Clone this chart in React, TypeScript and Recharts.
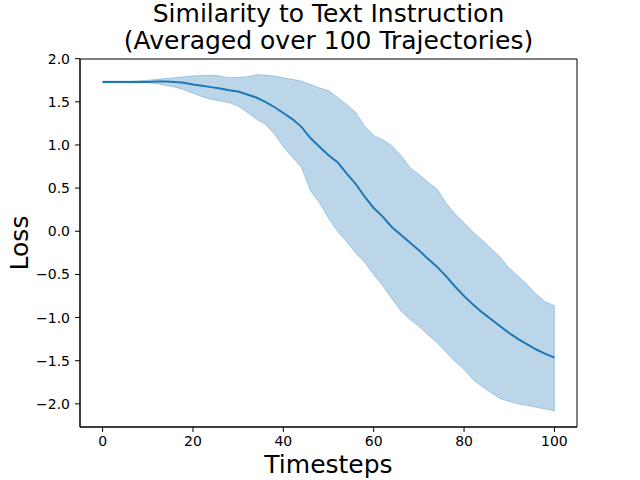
import React from 'react';
import { ComposedChart, Area, Line, XAxis, YAxis, ReferenceArea, ReferenceLine } from 'recharts';

const timesteps = [0, 2, 4, 6, 8, 10, 12, 14, 16, 18, 20, 22, 24, 26, 28, 30, 32, 34, 36, 38, 40, 42, 44, 46, 48, 50, 52, 54, 56, 58, 60, 62, 64, 66, 68, 70, 72, 74, 76, 78, 80, 82, 84, 86, 88, 90, 92, 94, 96, 98, 100];
const meanLoss = [1.73, 1.73, 1.73, 1.73, 1.73, 1.73, 1.735, 1.735, 1.73, 1.72, 1.70, 1.685, 1.67, 1.655, 1.635, 1.62, 1.585, 1.55, 1.50, 1.44, 1.37, 1.30, 1.21, 1.08, 0.98, 0.88, 0.80, 0.67, 0.55, 0.40, 0.27, 0.17, 0.05, -0.04, -0.13, -0.22, -0.32, -0.41, -0.52, -0.64, -0.75, -0.85, -0.94, -1.02, -1.10, -1.18, -1.25, -1.31, -1.37, -1.42, -1.465];
const lowerLoss = [1.72, 1.72, 1.72, 1.72, 1.72, 1.72, 1.71, 1.69, 1.67, 1.64, 1.60, 1.56, 1.53, 1.51, 1.49, 1.45, 1.38, 1.30, 1.24, 1.13, 0.98, 0.86, 0.74, 0.47, 0.33, 0.15, 0.00, -0.12, -0.25, -0.36, -0.50, -0.63, -0.78, -0.92, -1.02, -1.10, -1.20, -1.29, -1.40, -1.51, -1.60, -1.72, -1.80, -1.87, -1.94, -1.97, -2.00, -2.02, -2.04, -2.06, -2.08];
const upperLoss = [1.74, 1.74, 1.74, 1.74, 1.745, 1.75, 1.76, 1.77, 1.78, 1.79, 1.80, 1.805, 1.81, 1.80, 1.78, 1.785, 1.79, 1.815, 1.81, 1.80, 1.78, 1.76, 1.74, 1.70, 1.66, 1.63, 1.55, 1.47, 1.38, 1.22, 1.11, 1.06, 0.99, 0.88, 0.74, 0.66, 0.57, 0.49, 0.33, 0.20, 0.10, -0.01, -0.10, -0.20, -0.30, -0.43, -0.52, -0.62, -0.73, -0.82, -0.86];

const xTicks = [0, 20, 40, 60, 80, 100];
const yTicks = [-2.0, -1.5, -1.0, -0.5, 0.0, 0.5, 1.0, 1.5, 2.0];
const xDomain = [-5, 105];
const yDomain = [-2.268, 1.996];

const titleLines = ['Similarity to Text Instruction', '(Averaged over 100 Trajectories)'];
const xLabel = 'Timesteps';
const yLabel = 'Loss';

const data = timesteps.map((t, i) => ({ t, mean: meanLoss[i], band: [lowerLoss[i], upperLoss[i]] }));
const last = timesteps.length - 1;
const endEdge = [
  { x: timesteps[last], y: lowerLoss[last] },
  { x: timesteps[last], y: upperLoss[last] },
];
const startEdge = [
  { x: timesteps[0], y: lowerLoss[0] },
  { x: timesteps[0], y: upperLoss[0] },
];

const FONT = 'DejaVu Sans';
const BLUE = '#1f77b4';
const fmtY = (v: number) => (v < 0 ? '\u2212' + Math.abs(v).toFixed(1) : v.toFixed(1));
const tickStyle = { fill: '#000', fontSize: 14, fontFamily: FONT };

export default function App() {
  return (
    <div style={{ position: 'absolute', left: 0, top: 0, width: 640, height: 480, background: '#fff' }}>
      <ComposedChart width={640} height={480} data={data} margin={{ top: 59, right: 63, left: 0, bottom: 0 }}>
        <XAxis
          dataKey="t"
          type="number"
          domain={xDomain}
          ticks={xTicks}
          height={53}
          allowDataOverflow
          stroke="#000"
          tick={tickStyle}
          tickSize={5}
          tickMargin={4}
          axisLine={{ stroke: '#000', strokeWidth: 1 }}
          tickLine={{ stroke: '#000' }}
        />
        <YAxis
          type="number"
          domain={yDomain}
          ticks={yTicks}
          width={80}
          allowDataOverflow
          interval={0}
          tickFormatter={fmtY}
          stroke="#000"
          tick={tickStyle}
          tickSize={5}
          tickMargin={5}
          axisLine={{ stroke: '#000', strokeWidth: 1 }}
          tickLine={{ stroke: '#000' }}
        />
        <Area
          dataKey="band"
          type="linear"
          fill={BLUE}
          fillOpacity={0.3}
          stroke={BLUE}
          strokeOpacity={0.3}
          strokeWidth={1}
          isAnimationActive={false}
          dot={false}
          activeDot={false}
        />
        <ReferenceLine segment={endEdge} stroke={BLUE} strokeOpacity={0.3} strokeWidth={1} />
        <ReferenceLine segment={startEdge} stroke={BLUE} strokeOpacity={0.3} strokeWidth={1} />
        <Line dataKey="mean" type="linear" stroke={BLUE} strokeWidth={2} dot={false} activeDot={false} isAnimationActive={false} />
        <ReferenceArea x1={xDomain[0]} x2={xDomain[1]} y1={yDomain[0]} y2={yDomain[1]} fill="none" fillOpacity={0} stroke="#000" strokeWidth={1} ifOverflow="visible" />
      </ComposedChart>
      <svg width={640} height={480} style={{ position: 'absolute', left: 0, top: 0, pointerEvents: 'none' }}>
        <text x={328.5} y={21.5} textAnchor="middle" fontFamily={FONT} fontSize={25} fill="#000">{titleLines[0]}</text>
        <text x={328.5} y={48.5} textAnchor="middle" fontFamily={FONT} fontSize={25} fill="#000">{titleLines[1]}</text>
        <text x={328.5} y={473} textAnchor="middle" fontFamily={FONT} fontSize={25} fill="#000">{xLabel}</text>
        <text x={28} y={243} textAnchor="middle" fontFamily={FONT} fontSize={25} fill="#000" transform="rotate(-90, 28, 243)">{yLabel}</text>
      </svg>
    </div>
  );
}
